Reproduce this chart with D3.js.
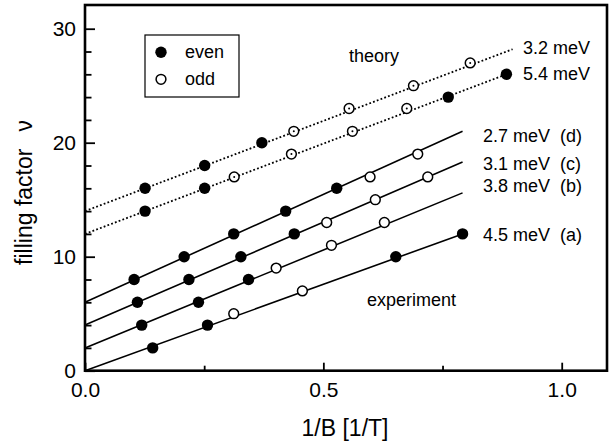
<!DOCTYPE html>
<html lang="en">
<head>
<meta charset="UTF-8">
<title>filling factor vs 1/B</title>
<style>
    body { margin: 0; background: #fff; }
    svg { display: block; font-family: "Liberation Sans", Arial, sans-serif; }
    .pre { white-space: pre; }
</style>
</head>
<body>
<script src="https://d3js.org/d3.v7.min.js"></script>
<script>
    const width = 615
    const height = 443

    // experiment (solid lines), points as [1/B, nu]
    const expA = [[0.142, 2], [0.257, 4], [0.312, 5], [0.456, 7], [0.652, 10], [0.792, 12]]
    const expB = [[0.119, 4], [0.238, 6], [0.343, 8], [0.401, 9], [0.517, 11], [0.628, 13]]
    const expC = [[0.110, 6], [0.218, 8], [0.327, 10], [0.439, 12], [0.507, 13], [0.609, 15], [0.719, 17]]
    const expD = [[0.103, 8], [0.208, 10], [0.312, 12], [0.421, 14], [0.528, 16], [0.598, 17], [0.698, 19]]
    // theory (dotted lines)
    const theo32 = [[0.126, 16], [0.251, 18], [0.371, 20], [0.438, 21], [0.554, 23], [0.689, 25], [0.808, 27]]
    const theo54 = [[0.126, 14], [0.251, 16], [0.313, 17], [0.433, 19], [0.561, 21], [0.675, 23], [0.762, 24], [0.884, 26]]

    // fitted lines: [start, end] as [1/B, nu]
    const fitA = [[0, 0], [0.792, 12.0]]
    const fitB = [[0, 2], [0.792, 15.6]]
    const fitC = [[0, 4], [0.792, 18.3]]
    const fitD = [[0, 6], [0.792, 21.0]]
    const fit32 = [[0, 14], [0.897, 28.2]]
    const fit54 = [[0, 12], [0.884, 26]]

    const expLabels = ['4.5 meV  (a)', '3.8 meV  (b)', '3.1 meV  (c)', '2.7 meV  (d)']
    const theoLabels = ['3.2 meV', '5.4 meV']
    const xTicks = [0, 0.5, 1.0]
    const xMinor = [0.25, 0.75]
    const yTicks = [0, 10, 20, 30]
    const yMinor = [2, 4, 6, 8, 12, 14, 16, 18, 22, 24, 26, 28]

    const margin = { left: 85, right: 8, top: 5, bottom: 72.3 }
    const x = d3.scaleLinear().domain([0, 1.095]).range([margin.left, width - margin.right])
    const y = d3.scaleLinear().domain([0, 32.08]).range([height - margin.bottom, margin.top])

    const svg = d3.select('body').append('svg')
        .attr('width', width)
        .attr('height', height)

    drawAxes()
    drawLines()
    drawPoints()
    drawText()
    drawLegend()

    function drawAxes() {
        const x0 = x.range()[0], y0 = y.range()[0]

        const gx = svg.append('g').attr('transform', `translate(0,${ y0 })`)
        gx.call(d3.axisBottom(x).tickValues(xTicks).tickSize(-8).tickPadding(11.5).tickFormat(d3.format('.1f')))
        gx.append('g').call(d3.axisBottom(x).tickValues(xMinor).tickSize(-5).tickFormat(''))

        const gy = svg.append('g').attr('transform', `translate(${ x0 },0)`)
        gy.call(d3.axisLeft(y).tickValues(yTicks).tickSize(-10).tickPadding(9).tickFormat(d3.format('d')))
        gy.append('g').call(d3.axisLeft(y).tickValues(yMinor).tickSize(-6.5).tickFormat(''))

        svg.selectAll('.domain').remove()
        svg.selectAll('.tick line').attr('stroke', '#000').attr('stroke-width', 1.8)
        svg.selectAll('.tick text')
            .attr('fill', '#000')
            .attr('font-size', 21)
            .attr('font-family', '"Liberation Sans", Arial, sans-serif')

        // frame
        svg.append('rect')
            .attr('x', x0)
            .attr('y', y.range()[1])
            .attr('width', x.range()[1] - x0)
            .attr('height', y0 - y.range()[1])
            .attr('fill', 'none')
            .attr('stroke', '#000')
            .attr('stroke-width', 2.6)

        svg.append('text')
            .attr('x', (x.range()[0] + x.range()[1]) / 2 - 1)
            .attr('y', 436)
            .attr('text-anchor', 'middle')
            .attr('font-size', 23)
            .text('1/B [1/T]')

        const yl = svg.append('text')
            .attr('transform', `translate(32,${ 192.5 }) rotate(-90)`)
            .attr('text-anchor', 'middle')
            .attr('font-size', 23)
        yl.append('tspan').text('filling factor')
        yl.append('tspan').attr('dx', 17).text('ν')
    }

    function drawLines() {
        const line = d3.line().x(d => x(d[0])).y(d => y(d[1]))

        svg.append('g')
            .selectAll('path')
            .data([fitA, fitB, fitC, fitD])
            .join('path')
            .attr('d', line)
            .attr('fill', 'none')
            .attr('stroke', '#000')
            .attr('stroke-width', 1.6)

        svg.append('g')
            .selectAll('path')
            .data([fit32, fit54])
            .join('path')
            .attr('d', line)
            .attr('fill', 'none')
            .attr('stroke', '#000')
            .attr('stroke-width', 1.8)
            .attr('stroke-dasharray', '1.8 2.2')
    }

    function drawPoints() {
        const exp = [expA, expB, expC, expD].flat()
        const theo = [theo32, theo54].flat()

        // even nu -> filled, odd nu -> open
        svg.append('g')
            .selectAll('circle')
            .data(exp.concat(theo))
            .join('circle')
            .attr('cx', d => x(d[0]))
            .attr('cy', d => y(d[1]))
            .attr('r', d => d[1] % 2 === 0 ? 5.7 : 4.9)
            .attr('fill', d => d[1] % 2 === 0 ? '#000' : '#fff')
            .attr('stroke', '#000')
            .attr('stroke-width', d => d[1] % 2 === 0 ? 0 : 1.5)

        // theory open markers show a centre dot
        svg.append('g')
            .selectAll('circle')
            .data(theo.filter(d => d[1] % 2 === 1))
            .join('circle')
            .attr('cx', d => x(d[0]))
            .attr('cy', d => y(d[1]))
            .attr('r', 1)
            .attr('fill', '#000')
    }

    function drawText() {
        const fs = 18
        const expY = [241, 191.5, 169.5, 142]
        svg.append('g')
            .selectAll('text')
            .data(expLabels)
            .join('text')
            .attr('class', 'pre')
            .attr('x', 483)
            .attr('y', (_, i) => expY[i])
            .attr('font-size', fs)
            .text(d => d)

        const theoY = [53.5, 80]
        svg.append('g')
            .selectAll('text')
            .data(theoLabels)
            .join('text')
            .attr('x', 523)
            .attr('y', (_, i) => theoY[i])
            .attr('font-size', fs)
            .text(d => d)

        svg.append('text').attr('x', 349).attr('y', 61.5).attr('font-size', fs).text('theory')
        svg.append('text').attr('x', 367).attr('y', 306).attr('font-size', fs).text('experiment')
    }

    function drawLegend() {
        const g = svg.append('g')
        g.append('rect')
            .attr('x', 145).attr('y', 35)
            .attr('width', 94).attr('height', 62)
            .attr('fill', '#fff')
            .attr('stroke', '#000')
            .attr('stroke-width', 1.2)

        const items = [['even', 52.3, true], ['odd', 79.3, false]]
        items.forEach(([name, cy, filled]) => {
            g.append('circle')
                .attr('cx', 161).attr('cy', cy)
                .attr('r', filled ? 5.7 : 4.9)
                .attr('fill', filled ? '#000' : '#fff')
                .attr('stroke', '#000')
                .attr('stroke-width', filled ? 0 : 1.5)
            g.append('text')
                .attr('x', 185).attr('y', cy + 5.5)
                .attr('font-size', 18)
                .text(name)
        })
    }
</script>
</body>
</html>
